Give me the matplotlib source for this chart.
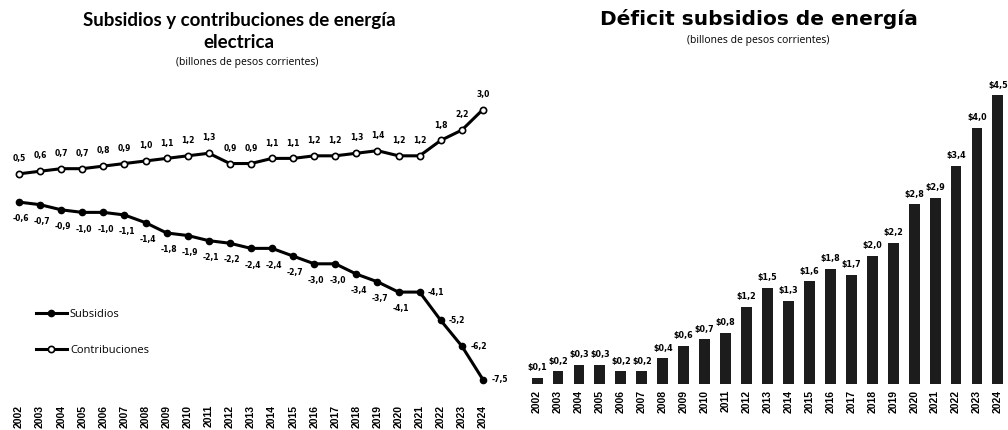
import numpy as np
import matplotlib.pyplot as plt

# Data (billones de pesos corrientes)
years = list(range(2002, 2025))
subsidios = [-0.6, -0.7, -0.9, -1.0, -1.0, -1.1, -1.4, -1.8, -1.9, -2.1, -2.2, -2.4,
             -2.4, -2.7, -3.0, -3.0, -3.4, -3.7, -4.1, -4.1, -5.2, -6.2, -7.5]
contribuciones = [0.5, 0.6, 0.7, 0.7, 0.8, 0.9, 1.0, 1.1, 1.2, 1.3, 0.9, 0.9,
                  1.1, 1.1, 1.2, 1.2, 1.3, 1.4, 1.2, 1.2, 1.8, 2.2, 3.0]
deficit = [0.1, 0.2, 0.3, 0.3, 0.2, 0.2, 0.4, 0.6, 0.7, 0.8, 1.2, 1.5,
           1.3, 1.6, 1.8, 1.7, 2.0, 2.2, 2.8, 2.9, 3.4, 4.0, 4.5]


def fmt(v):
    return f"{v:.1f}".replace(".", ",")


fig = plt.figure(figsize=(10.08, 4.3), dpi=100)
fig.patch.set_facecolor("white")

# ---- left chart: subsidies and contributions
ax1 = fig.add_axes([0.008, 0.0977, 0.483, 0.693])
ax1.plot(years, subsidios, color="black", lw=2.2, marker="o", ms=4.5,
         mfc="black", mec="black", label="Subsidios")
ax1.plot(years, contribuciones, color="black", lw=2.2, marker="o", ms=4.5,
         mfc="white", mec="black", mew=1.2, label="Contribuciones")

for yr, v in zip(years, contribuciones):
    ax1.annotate(fmt(v), (yr, v), xytext=(0, 11), textcoords="offset points",
                 ha="center", va="center", fontsize=5.5, fontweight="bold")

for yr, v in zip(years, subsidios):
    if yr >= 2021:
        off, ha = (6, 0), "left"  # last labels sit to the right of the point
    else:
        off, ha = (1.5, -12), "center"
    ax1.annotate(fmt(v), (yr, v), xytext=off, textcoords="offset points",
                 ha=ha, va="center", fontsize=5.5, fontweight="bold")

ax1.set_xlim(2001.48, 2024.57)
ax1.set_ylim(-7.83, 3.76)
ax1.set_xticks(years)
ax1.set_xticklabels([str(y) for y in years], rotation=90, fontsize=7.5,
                    fontweight="bold", family="Liberation Sans")
ax1.tick_params(axis="x", length=0, pad=12)
ax1.set_yticks([])
for s in ax1.spines.values():
    s.set_visible(False)

leg = ax1.legend(loc="upper left", bbox_to_anchor=(0.045, 0.285), frameon=False,
                 fontsize=8, handlelength=2.8, handletextpad=0.3,
                 labelspacing=2.3, borderpad=0)
for t in leg.get_texts():
    t.set_family("Open Sans")

fig.text(0.237, 0.952, "Subsidios y contribuciones de energía",
         ha="center", va="center", fontsize=13.5, fontweight="bold", family="Lato")
fig.text(0.237, 0.900, "electrica",
         ha="center", va="center", fontsize=13.5, fontweight="bold", family="Lato")
fig.text(0.245, 0.855, "(billones de pesos corrientes)", ha="center",
         va="center", fontsize=7.5, family="Open Sans")

# ---- right chart: deficit
ax2 = fig.add_axes([0.516, 0.107, 0.484, 0.753])
ax2.bar(years, deficit, width=0.52, color="#1c1c1c")
for yr, v in zip(years, deficit):
    ax2.annotate("$" + fmt(v), (yr, v), xytext=(0, 4), textcoords="offset points",
                 ha="center", va="bottom", fontsize=5.8, fontweight="bold")

ax2.set_xlim(2001.19, 2024.48)
ax2.set_ylim(0, 5.05)
ax2.set_xticks(years)
ax2.set_xticklabels([str(y) for y in years], rotation=90, fontsize=7.5,
                    fontweight="bold", family="Liberation Sans")
ax2.tick_params(axis="x", length=0, pad=4)
ax2.set_yticks([])
for s in ax2.spines.values():
    s.set_visible(False)

fig.text(0.753, 0.956, "Déficit subsidios de energía", ha="center",
         va="center", fontsize=14.5, fontweight="bold")
fig.text(0.752, 0.905, "(billones de pesos corrientes)", ha="center",
         va="center", fontsize=7.5, family="Open Sans")

fig.savefig("out.png", dpi=100)
